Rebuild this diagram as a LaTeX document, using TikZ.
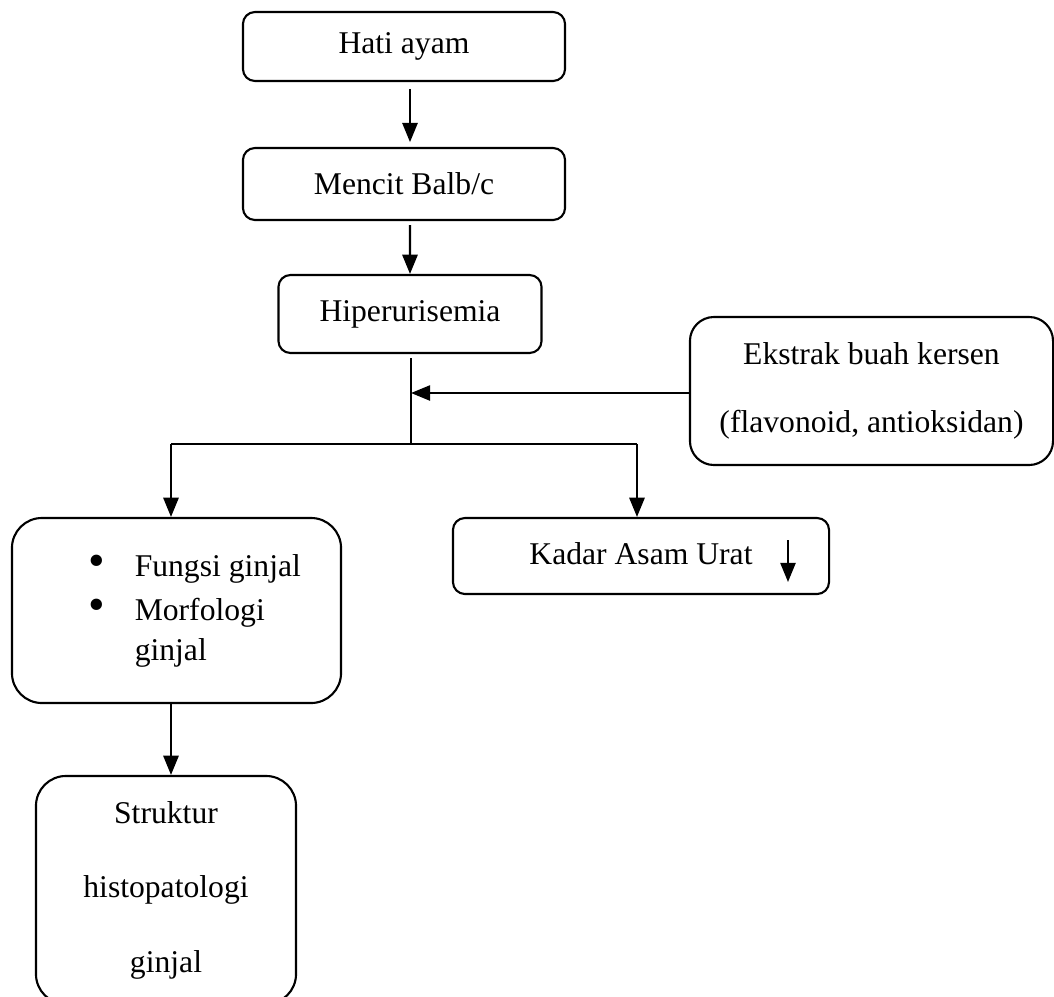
\documentclass[tikz,border=0pt]{standalone}
\usepackage{fontspec}
\setmainfont{Liberation Serif}
\usetikzlibrary{positioning}
\usetikzlibrary{arrows.meta}

\begin{document}
\begin{tikzpicture}[x=0.025cm,y=-0.025cm,>={Triangle[length=0.48cm,width=0.38cm]},line width=1.5pt,
	every node/.style={shape=rectangle,draw,rounded corners=0.3cm,inner sep=0pt,font=\fontsize{22.5}{29}\selectfont},
	bigbox/.style={rounded corners=0.75cm},]
	    \useasboundingbox (0,0) rectangle (1054,996);
	    \clip (0,0) rectangle (1054,996);
	    % create the nodes
		    \node[minimum width=8.05cm,minimum height=1.725cm] (hati) at (404,46.5) {Hati ayam};
		    \node[minimum width=8.05cm,minimum height=1.8cm] (mencit) at (404,184) {Mencit Balb/c};
		    \node[minimum width=6.575cm,minimum height=1.95cm] (hiper) at (410,314) {\raisebox{0.1cm}{Hiperurisemia}};
		    \node[minimum width=9.075cm,minimum height=3.7cm,rounded corners=0.6cm,align=center] (ekstrak) at (871.5,391) {Ekstrak buah kersen\\[19pt](flavonoid, antioksidan)}; %perlakuan
		    \node[bigbox,minimum width=8.225cm,minimum height=4.625cm] (fungsi) at (176.5,610.5) {\raisebox{0.35cm}{\begin{tabular}{@{\hspace{0.9cm}}l@{\hspace{0.75cm}}l@{}}\scalebox{1.5}{\textbullet} & Fungsi ginjal\\[2pt] \scalebox{1.5}{\textbullet} & Morfologi\\ & ginjal\end{tabular}}};
		    \node[minimum width=9.4cm,minimum height=1.9cm] (kadar) at (641,556) {\raisebox{0.1cm}{Kadar Asam Urat}};
		    \node[bigbox,minimum width=6.5cm,minimum height=5.7cm,align=center] (struktur) at (166,890) {Struktur\\[24pt]histopatologi\\[24pt]ginjal};
	    % branch points
		    \coordinate (cabang) at (411,444);
		    \coordinate (kiri) at (171,444);
		    \coordinate (kanan) at (637,444);
		    \coordinate (turunA) at (788,540);
		    \coordinate (turunB) at (788,582);
	    % connect them
		    \draw[->,shorten <=0.17cm] ([xshift=0.15cm]hati.south) -- ([xshift=0.15cm,yshift=0.12cm]mencit.north);
		    \draw[->,shorten <=0.1cm] ([xshift=0.15cm]mencit.south) -- (hiper.north);
		    \draw[shorten <=0.1cm] (hiper.south -| cabang) -- (cabang);
		    \draw (kiri) -- (kanan);
		    \draw[->] (ekstrak.west |- 0,393) -- (cabang |- 0,393);
		    \draw[->] (kiri) -- (kiri |- fungsi.north);
		    \draw[->] (kanan) -- (kanan |- kadar.north);
		    \draw[->] (fungsi.south -| kiri) -- (kiri |- struktur.north);
		    \draw[->] (turunA) -- (turunB); %turun
		\end{tikzpicture}
\end{document}
